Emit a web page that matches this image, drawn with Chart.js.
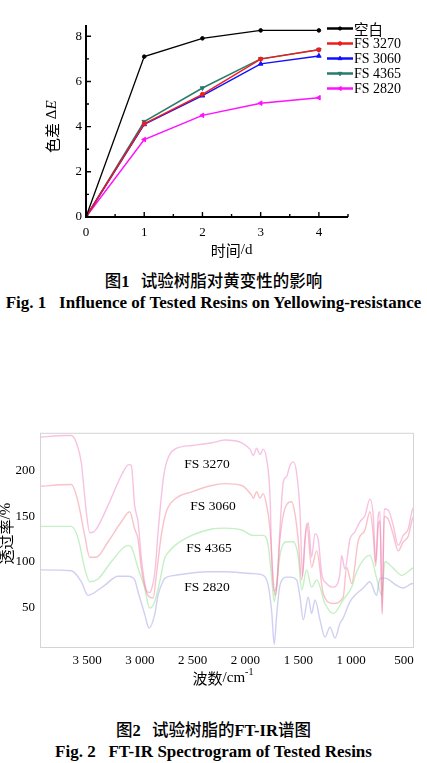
<!DOCTYPE html>
<html>
<head>
<meta charset="utf-8">
<script src="https://cdn.jsdelivr.net/npm/chart.js@4.4.0/dist/chart.umd.min.js"></script>
<style>
  html, body { margin: 0; padding: 0; background: #fff; width: 427px; height: 763px; overflow: hidden; }
  canvas { position: absolute; left: 0; }
  #c1 { top: 0; }
  #c2 { top: 420px; }
  .cap { position: absolute; left: 0; width: 427px; text-align: center; white-space: pre; color: #000; line-height: 20px; }
  .cn { font-family: "Noto Sans CJK SC"; font-size: 16.5px; font-weight: 500; }
  .en { font-family: "Liberation Serif"; font-size: 17px; font-weight: bold; }
  .num { font-family: "Liberation Serif"; font-weight: bold; }
</style>
</head>
<body>
<canvas id="c1" width="427" height="262"></canvas>
<canvas id="c2" width="427" height="280"></canvas>
<div class="cap cn" style="top:270px">图<span class="num">1</span>   试验树脂对黄变性的影响</div>
<div class="cap en" style="top:293px">Fig. 1   Influence of Tested Resins on Yellowing-resistance</div>
<div class="cap cn" style="top:719px">图<span class="num">2</span>   试验树脂的<span class="num">FT-IR</span>谱图</div>
<div class="cap en" style="top:742px">Fig. 2   FT-IR Spectrogram of Tested Resins</div>

<script>
// ---- Fig. 1: colour difference vs. exposure time ----
const days = [0, 1, 2, 3, 4];
const resinNames = ['空白', 'FS 3270', 'FS 3060', 'FS 4365', 'FS 2820'];
const dE_blank = [0, 7.10, 7.91, 8.26, 8.26];
const dE_3270 = [0, 4.13, 5.43, 6.99, 7.40];
const dE_3060 = [0, 4.10, 5.37, 6.78, 7.13];
const dE_4365 = [0, 4.22, 5.71, 7.00, 7.41];
const dE_2820 = [0, 3.43, 4.50, 5.04, 5.28];
const dayTicks = [0, 1, 2, 3, 4];
const dETicks = [0, 2, 4, 6, 8];

// ---- Fig. 2: FT-IR spectra, [wavenumber cm-1, transmittance %] ----
const ir3270 = [[3960,237],[3700,239],[3649,239],[3601,231],[3554,209],[3507,155],[3474,132],[3440,133],[3412,136],[3301,162],[3175,195],[3105,207],[3081,206],[3049,162],[3017,144],[2982,100],[2935,68],[2910,66],[2888,70],[2857,89],[2825,136],[2778,191],[2746,210],[2667,224],[2509,228],[2320,231],[2194,234],[2036,231],[1958,224],[1926,217],[1894,225],[1863,218],[1832,224],[1800,213],[1768,173],[1752,107],[1730,68],[1705,74],[1674,136],[1642,188],[1610,194],[1579,206],[1548,210],[1516,198],[1484,155],[1460,84],[1437,123],[1406,143],[1374,105],[1342,131],[1311,124],[1279,87],[1232,76],[1169,72],[1106,87],[1090,107],[1059,92],[1011,125],[964,133],[917,144],[869,151],[822,169],[791,151],[768,100],[743,151],[727,155],[706,42],[687,158],[649,157],[602,140],[554,118],[507,129],[460,136],[418,158],[400,160]];
const ir3060 = [[3960,183],[3649,185],[3585,166],[3522,129],[3474,105],[3412,105],[3301,122],[3175,144],[3096,155],[3049,136],[3017,125],[2986,93],[2923,63],[2875,60],[2844,85],[2797,129],[2750,155],[2667,169],[2509,177],[2320,184],[2194,186],[2036,184],[1941,173],[1926,170],[1894,177],[1863,170],[1832,175],[1800,162],[1768,136],[1743,89],[1721,63],[1705,70],[1674,125],[1610,163],[1563,166],[1532,153],[1500,123],[1468,80],[1421,142],[1374,94],[1326,112],[1264,65],[1169,54],[1075,61],[1043,94],[995,76],[933,123],[869,135],[822,155],[791,130],[768,95],[743,140],[727,145],[706,45],[687,150],[649,147],[602,130],[554,112],[507,122],[460,128],[418,148],[400,150]];
const ir4365 = [[3960,139],[3649,139],[3585,126],[3522,93],[3474,78],[3396,81],[3270,100],[3112,118],[3080,116],[3017,93],[2954,71],[2907,49],[2859,56],[2812,78],[2765,104],[2746,108],[2667,118],[2509,129],[2320,136],[2194,137],[2036,135],[1926,129],[1832,129],[1785,118],[1752,82],[1728,56],[1705,74],[1674,107],[1610,122],[1548,122],[1500,105],[1468,69],[1421,91],[1374,72],[1326,80],[1248,54],[1169,43],[1075,58],[995,72],[948,89],[822,107],[759,82],[711,63],[680,100],[602,93],[522,85],[418,93],[400,94]];
const ir2820 = [[3960,91],[3649,90],[3554,78],[3491,63],[3460,64],[3333,74],[3207,84],[3112,84],[3049,80],[3017,67],[2954,42],[2913,27],[2859,42],[2828,63],[2782,78],[2762,82],[2667,85],[2352,89],[2194,89],[1941,87],[1832,85],[1785,74],[1752,45],[1728,9],[1705,41],[1674,74],[1610,83],[1579,83],[1516,80],[1484,61],[1453,36],[1406,61],[1374,43],[1342,58],[1295,36],[1248,17],[1200,28],[1153,16],[1106,32],[1075,38],[1011,56],[964,63],[885,71],[822,78],[759,63],[727,82],[680,82],[570,74],[507,71],[418,76],[400,76]];
const spectraNames = ['FS 3270', 'FS 3060', 'FS 4365', 'FS 2820'];
const wnTicks = [3500, 3000, 2500, 2000, 1500, 1000, 500];
const wnTickLabels = ['3 500', '3 000', '2 500', '2 000', '1 500', '1 000', '500'];
const tTicks = [50, 100, 150, 200];

const SERIF = 'Liberation Serif';
const CJK = 'Noto Sans CJK SC';

// ---------- chart 1 ----------
const lineStyles = [
  { color: '#000000', shape: 'circle',   r: 1.8, rot: 0,   w: 1.3 },
  { color: '#ee1c1c', shape: 'circle',   r: 2,   rot: 0,   w: 1.5 },
  { color: '#1010ff', shape: 'triangle', r: 2.6, rot: 0,   w: 1.5 },
  { color: '#2a7b6e', shape: 'triangle', r: 2.6, rot: 180, w: 1.5 },
  { color: '#ff10ff', shape: 'triangle', r: 2.6, rot: 270, w: 1.5 }
];
const dESeries = [dE_blank, dE_3270, dE_3060, dE_4365, dE_2820];

const fig1Decor = {
  id: 'fig1Decor',
  afterDraw(chart) {
    const { ctx, chartArea: a, scales: { x, y } } = chart;
    ctx.save();
    // axes
    ctx.strokeStyle = '#000';
    ctx.lineWidth = 2;
    ctx.beginPath();
    ctx.moveTo(a.left, a.top);
    ctx.lineTo(a.left, a.bottom);
    ctx.lineTo(a.right, a.bottom);
    ctx.stroke();
    // inward tick marks
    ctx.lineWidth = 1.4;
    ctx.beginPath();
    for (let v = 0.5; v <= 4.5; v += 0.5) {
      const px = x.getPixelForValue(v);
      const len = Number.isInteger(v) ? 5 : 3;
      ctx.moveTo(px, a.bottom);
      ctx.lineTo(px, a.bottom - len);
    }
    for (let v = 1; v <= 8; v += 1) {
      const py = y.getPixelForValue(v);
      const len = v % 2 === 0 ? 5 : 3;
      ctx.moveTo(a.left, py);
      ctx.lineTo(a.left + len, py);
    }
    ctx.stroke();

    // axis titles
    ctx.fillStyle = '#000';
    ctx.textBaseline = 'middle';
    ctx.textAlign = 'left';
    ctx.font = '15px "' + CJK + '"';
    const t1 = '时间', t2 = '/d';
    const w1 = ctx.measureText(t1).width;
    ctx.font = '15px "' + SERIF + '"';
    const w2 = ctx.measureText(t2).width;
    let sx = x.getPixelForValue(2.5) - (w1 + w2) / 2;
    const ty = a.bottom + 33;
    ctx.font = '15px "' + CJK + '"';
    ctx.fillText(t1, sx, ty);
    ctx.font = '15px "' + SERIF + '"';
    ctx.fillText(t2, sx + w1, ty);

    ctx.save();
    ctx.translate(a.left - 34, y.getPixelForValue(4));
    ctx.rotate(-Math.PI / 2);
    ctx.font = '15px "' + CJK + '"';
    const p1 = '色差';
    const q1 = ctx.measureText(p1).width;
    ctx.font = '15px "' + SERIF + '"';
    const p2 = ' Δ';
    const q2 = ctx.measureText(p2).width;
    ctx.font = 'italic 15px "' + SERIF + '"';
    const p3 = 'E';
    const q3 = ctx.measureText(p3).width;
    let ox = -(q1 + q2 + q3) / 2;
    ctx.font = '15px "' + CJK + '"';
    ctx.fillText(p1, ox, 0);
    ctx.font = '15px "' + SERIF + '"';
    ctx.fillText(p2, ox + q1, 0);
    ctx.font = 'italic 15px "' + SERIF + '"';
    ctx.fillText(p3, ox + q1 + q2, 0);
    ctx.restore();

    // legend
    chart.data.datasets.forEach((ds, i) => {
      const st = lineStyles[i];
      const ly = 28.5 + i * 15;
      const lx0 = 327, lx1 = 353;
      ctx.strokeStyle = st.color;
      ctx.fillStyle = st.color;
      ctx.lineWidth = 2.5;
      ctx.beginPath();
      ctx.moveTo(lx0, ly);
      ctx.lineTo(lx1, ly);
      ctx.stroke();
      ctx.lineWidth = 1;
      Chart.helpers.drawPoint(ctx, { pointStyle: st.shape, rotation: st.rot, radius: st.r * 0.9, borderWidth: 1 }, (lx0 + lx1) / 2, ly);
      ctx.fillStyle = '#000';
      ctx.textAlign = 'left';
      ctx.font = i === 0 ? '14.5px "' + CJK + '"' : '14px "' + SERIF + '"';
      ctx.fillText(ds.label, lx1 + 1, ly + 0.5);
    });
    ctx.restore();
  }
};

// ---------- chart 2 ----------
const spectraStyles = [
  { color: 'rgba(238,120,190,0.45)' },
  { color: 'rgba(240,110,125,0.42)' },
  { color: 'rgba(110,215,110,0.40)' },
  { color: 'rgba(140,140,225,0.42)' }
];
const spectrumLabels = [
  { text: 'FS 3270', wn: 2364, t: 207.5 },
  { text: 'FS 3060', wn: 2308, t: 160.5 },
  { text: 'FS 4365', wn: 2346, t: 114.5 },
  { text: 'FS 2820', wn: 2364, t: 72 }
];

const fig2Decor = {
  id: 'fig2Decor',
  afterDraw(chart) {
    const { ctx, chartArea: a, scales: { x, y } } = chart;
    ctx.save();
    ctx.strokeStyle = '#d4d4d8';
    ctx.lineWidth = 1;
    ctx.strokeRect(a.left + 0.5, a.top + 0.5, a.right - a.left - 1, a.bottom - a.top - 1);

    ctx.fillStyle = '#000';
    ctx.textBaseline = 'middle';
    ctx.textAlign = 'center';
    ctx.font = '13.5px "' + SERIF + '"';
    spectrumLabels.forEach(l => ctx.fillText(l.text, x.getPixelForValue(l.wn), y.getPixelForValue(l.t)));

    // x title with superscript
    ctx.textAlign = 'left';
    ctx.font = '15px "' + CJK + '"';
    const a1 = '波数';
    const b1 = ctx.measureText(a1).width;
    ctx.font = '15px "' + SERIF + '"';
    const a2 = '/cm';
    const b2 = ctx.measureText(a2).width;
    ctx.font = '10px "' + SERIF + '"';
    const a3 = '-1';
    const b3 = ctx.measureText(a3).width;
    const cx = a.left + 183 - (b1 + b2 + b3) / 2;
    const cy = a.bottom + 30;
    ctx.font = '15px "' + CJK + '"';
    ctx.fillText(a1, cx, cy);
    ctx.font = '15px "' + SERIF + '"';
    ctx.fillText(a2, cx + b1, cy);
    ctx.font = '10px "' + SERIF + '"';
    ctx.fillText(a3, cx + b1 + b2, cy - 6);

    // y title
    ctx.save();
    ctx.translate(6, y.getPixelForValue(131));
    ctx.rotate(-Math.PI / 2);
    ctx.font = '15px "' + CJK + '"';
    const c1 = '透过率';
    const d1 = ctx.measureText(c1).width;
    ctx.font = '15px "' + SERIF + '"';
    const c2 = '/%';
    const d2 = ctx.measureText(c2).width;
    const ox = -(d1 + d2) / 2;
    ctx.font = '15px "' + CJK + '"';
    ctx.fillText(c1, ox, 0);
    ctx.font = '15px "' + SERIF + '"';
    ctx.fillText(c2, ox + d1, 0);
    ctx.restore();
    ctx.restore();
  }
};

function build() {
  new Chart(document.getElementById('c1'), {
    type: 'line',
    data: {
      datasets: dESeries.map((vals, i) => ({
        label: resinNames[i],
        data: days.map((d, k) => ({ x: d, y: vals[k] })),
        borderColor: lineStyles[i].color,
        backgroundColor: lineStyles[i].color,
        borderWidth: lineStyles[i].w,
        pointStyle: lineStyles[i].shape,
        pointRotation: lineStyles[i].rot,
        pointRadius: lineStyles[i].r,
        pointBorderWidth: 1,
        tension: 0,
        fill: false
      }))
    },
    options: {
      responsive: false,
      animation: false,
      devicePixelRatio: 1,
      layout: { padding: { top: 25, right: 79, left: 0, bottom: 0 } },
      plugins: { legend: { display: false }, tooltip: { enabled: false } },
      scales: {
        x: {
          type: 'linear', min: 0, max: 4.5,
          afterBuildTicks: s => { s.ticks = dayTicks.map(v => ({ value: v })); },
          afterFit: s => { s.height = 45; },
          grid: { display: false, drawTicks: false },
          border: { display: false },
          ticks: { color: '#000', padding: 8, autoSkip: false, maxRotation: 0, font: { family: SERIF, size: 13 } }
        },
        y: {
          type: 'linear', min: 0, max: 8.5,
          afterBuildTicks: s => { s.ticks = dETicks.map(v => ({ value: v })); },
          afterFit: s => { s.width = 86; },
          grid: { display: false, drawTicks: false },
          border: { display: false },
          ticks: { color: '#000', padding: 4, autoSkip: false, font: { family: SERIF, size: 13 } }
        }
      }
    },
    plugins: [fig1Decor]
  });

  const spectra = [ir3270, ir3060, ir4365, ir2820];
  new Chart(document.getElementById('c2'), {
    type: 'line',
    data: {
      datasets: spectra.map((pts, i) => ({
        label: spectraNames[i],
        data: pts.map(p => ({ x: p[0], y: p[1] })),
        borderColor: spectraStyles[i].color,
        borderWidth: 1.4,
        pointRadius: 0,
        cubicInterpolationMode: 'monotone',
        fill: false
      }))
    },
    options: {
      responsive: false,
      animation: false,
      devicePixelRatio: 1,
      layout: { padding: { top: 12, right: 13, left: 0, bottom: 0 } },
      plugins: { legend: { display: false }, tooltip: { enabled: false } },
      scales: {
        x: {
          type: 'linear', min: 405, max: 3945, reverse: true,
          afterBuildTicks: s => { s.ticks = wnTicks.map(v => ({ value: v })); },
          afterFit: s => { s.height = 52; },
          grid: { display: false, drawTicks: false },
          border: { display: false },
          ticks: {
            color: '#000', padding: 5, autoSkip: false, maxRotation: 0,
            font: { family: SERIF, size: 13 },
            callback: (v, idx) => wnTickLabels[idx]
          }
        },
        y: {
          type: 'linear', min: 5, max: 242,
          afterBuildTicks: s => { s.ticks = tTicks.map(v => ({ value: v })); },
          afterFit: s => { s.width = 40; },
          grid: { display: false, drawTicks: false },
          border: { display: false },
          ticks: { color: '#000', padding: 5, autoSkip: false, font: { family: SERIF, size: 13 } }
        }
      }
    },
    plugins: [fig2Decor]
  });
}

const fontLoads = [
  '15px "Noto Sans CJK SC"', '13px "Liberation Serif"', 'italic 15px "Liberation Serif"', 'bold 14px "Liberation Serif"'
].map(f => document.fonts.load(f).catch(() => null));
Promise.all(fontLoads).then(build, build);
</script>
</body>
</html>
